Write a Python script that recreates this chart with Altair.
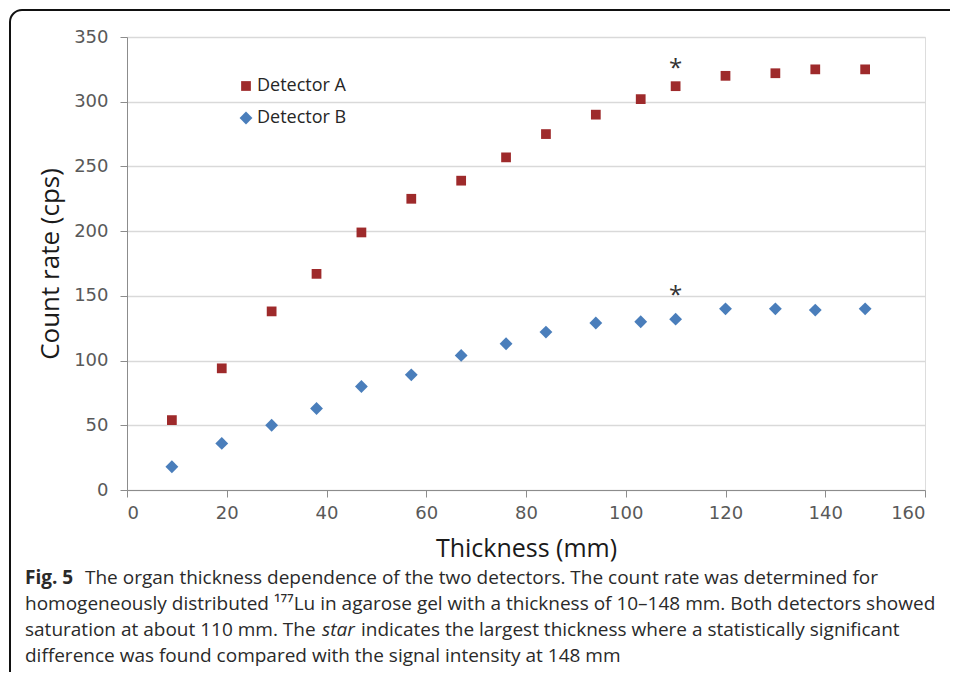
import altair as alt
import pandas as pd
import math

# ---- data ----
thickness = [9, 19, 29, 38, 47, 57, 67, 76, 84, 94, 103, 110, 120, 130, 138, 148]
detector_a = [54, 94, 138, 167, 199, 225, 239, 257, 275, 290, 302, 312, 320, 322, 325, 325]
detector_b = [18, 36, 50, 63, 80, 89, 104, 113, 122, 129, 130, 132, 140, 140, 139, 140]
series_names = ["Detector A", "Detector B"]
series_colors = ["#9e2a2b", "#4a7ebb"]
series_shapes = ["square", "diamond"]
series_sizes = [95, 165]
star_x = [110, 110]
star_y = [331, 155]
x_ticks = [0, 20, 40, 60, 80, 100, 120, 140, 160]
y_ticks = [0, 50, 100, 150, 200, 250, 300, 350]

x_title = "Thickness (mm)"
y_title = "Count rate (cps)"

caption_bold = "Fig. 5"
caption_line1 = "The organ thickness dependence of the two detectors. The count rate was determined for"
caption_line2 = "homogeneously distributed \u00b9\u2077\u2077Lu in agarose gel with a thickness of 10\u2013148 mm. Both detectors showed"
caption_line3a = "saturation at about 110 mm. The"
caption_line3_italic = "star"
caption_line3b = "indicates the largest thickness where a statistically significant"
caption_line4 = "difference was found compared with the signal intensity at 148 mm"

rows = []
for name, vals in zip(series_names, [detector_a, detector_b]):
    for t, v in zip(thickness, vals):
        rows.append({"Thickness": t, "Count": v, "Series": name})
df = pd.DataFrame(rows)
stars = pd.DataFrame({"Thickness": star_x, "Count": star_y, "t": ["*", "*"]})

W, H = 798, 453
FONT = "Open Sans"

x_enc = alt.X("Thickness:Q",
              scale=alt.Scale(domain=[0, 160], nice=False, zero=True),
              axis=alt.Axis(values=x_ticks, title=x_title, grid=False,
                            domainColor="#8c8c8c", tickColor="#8c8c8c", tickSize=7,
                            labelFont="DejaVu Sans", labelFontSize=18, labelColor="#595959",
                            labelPadding=7, titleFont=FONT, titleFontSize=25,
                            titleFontWeight="normal", titleColor="#1a1a1a", titlePadding=14))
y_enc = alt.Y("Count:Q",
              scale=alt.Scale(domain=[0, 350], nice=False),
              axis=alt.Axis(values=y_ticks, title=y_title, grid=True,
                            gridColor="#d9d9d9", gridWidth=1.5,
                            domainColor="#8c8c8c", tickColor="#8c8c8c", tickSize=7,
                            labelFont="DejaVu Sans", labelFontSize=18, labelColor="#595959",
                            labelPadding=12, titleFont=FONT, titleFontSize=26,
                            titleFontWeight="normal", titleColor="#1a1a1a", titlePadding=10))

points = alt.Chart(df).mark_point(filled=True, opacity=1).encode(
    x=x_enc,
    y=y_enc,
    color=alt.Color("Series:N",
                    scale=alt.Scale(domain=series_names, range=series_colors),
                    legend=alt.Legend(title=None, orient="none", legendX=110, legendY=40,
                                      labelFont=FONT, labelFontSize=18, labelColor="#262626",
                                      symbolSize=60, rowPadding=14, labelOffset=2)),
    shape=alt.Shape("Series:N",
                    scale=alt.Scale(domain=series_names, range=series_shapes)),
    size=alt.Size("Series:N",
                  scale=alt.Scale(domain=series_names, range=series_sizes), legend=None),
)

star_marks = alt.Chart(stars).mark_text(font=FONT, fontSize=24, color="#333333",
                                        baseline="middle", dy=7).encode(
    x="Thickness:Q", y="Count:Q", text="t:N")


def txt(s, x, y, **kw):
    return alt.Chart(pd.DataFrame({"t": [s]})).mark_text(
        font=FONT, fontSize=19, color="#2a2a2a", align="left", baseline="middle", **kw
    ).encode(x=alt.value(x), y=alt.value(y), text="t:N")


one = pd.DataFrame({"a": [0]})
FX, FY, R = -117, -27, 12
frame_top = alt.Chart(one).mark_rule(color="#111111", strokeWidth=2).encode(
    x=alt.value(FX + R), x2=alt.value(W + 30), y=alt.value(FY))
frame_left = alt.Chart(one).mark_rule(color="#111111", strokeWidth=2).encode(
    x=alt.value(FX), y=alt.value(FY + R), y2=alt.value(H + 200))
frame_corner = alt.Chart(one).mark_arc(
    radius=R + 1, radius2=R - 1, theta=1.5 * math.pi, theta2=2 * math.pi, color="#111111"
).encode(x=alt.value(FX + R), y=alt.value(FY + R))

X0 = -102
L1, L2, L3, L4 = 541, 567, 593, 619
caption = [
    txt(caption_bold, X0, L1, fontWeight="bold"),
    txt(caption_line1, X0 + 60, L1),
    txt(caption_line2, X0, L2),
    txt(caption_line3a, X0, L3),
    txt(caption_line3_italic, X0 + 297, L3, fontStyle="italic"),
    txt(caption_line3b, X0 + 336, L3),
    txt(caption_line4, X0, L4),
]

chart = alt.layer(frame_top, frame_left, frame_corner, points, star_marks, *caption).properties(
    width=W, height=H,
    autosize=alt.AutoSizeParams(type="none"),
    padding={"left": 119, "top": 29, "right": 25, "bottom": 182},
).configure_view(stroke=None).configure(background="white")

chart.save("out.html", embed_options={"renderer": "svg", "actions": False})
